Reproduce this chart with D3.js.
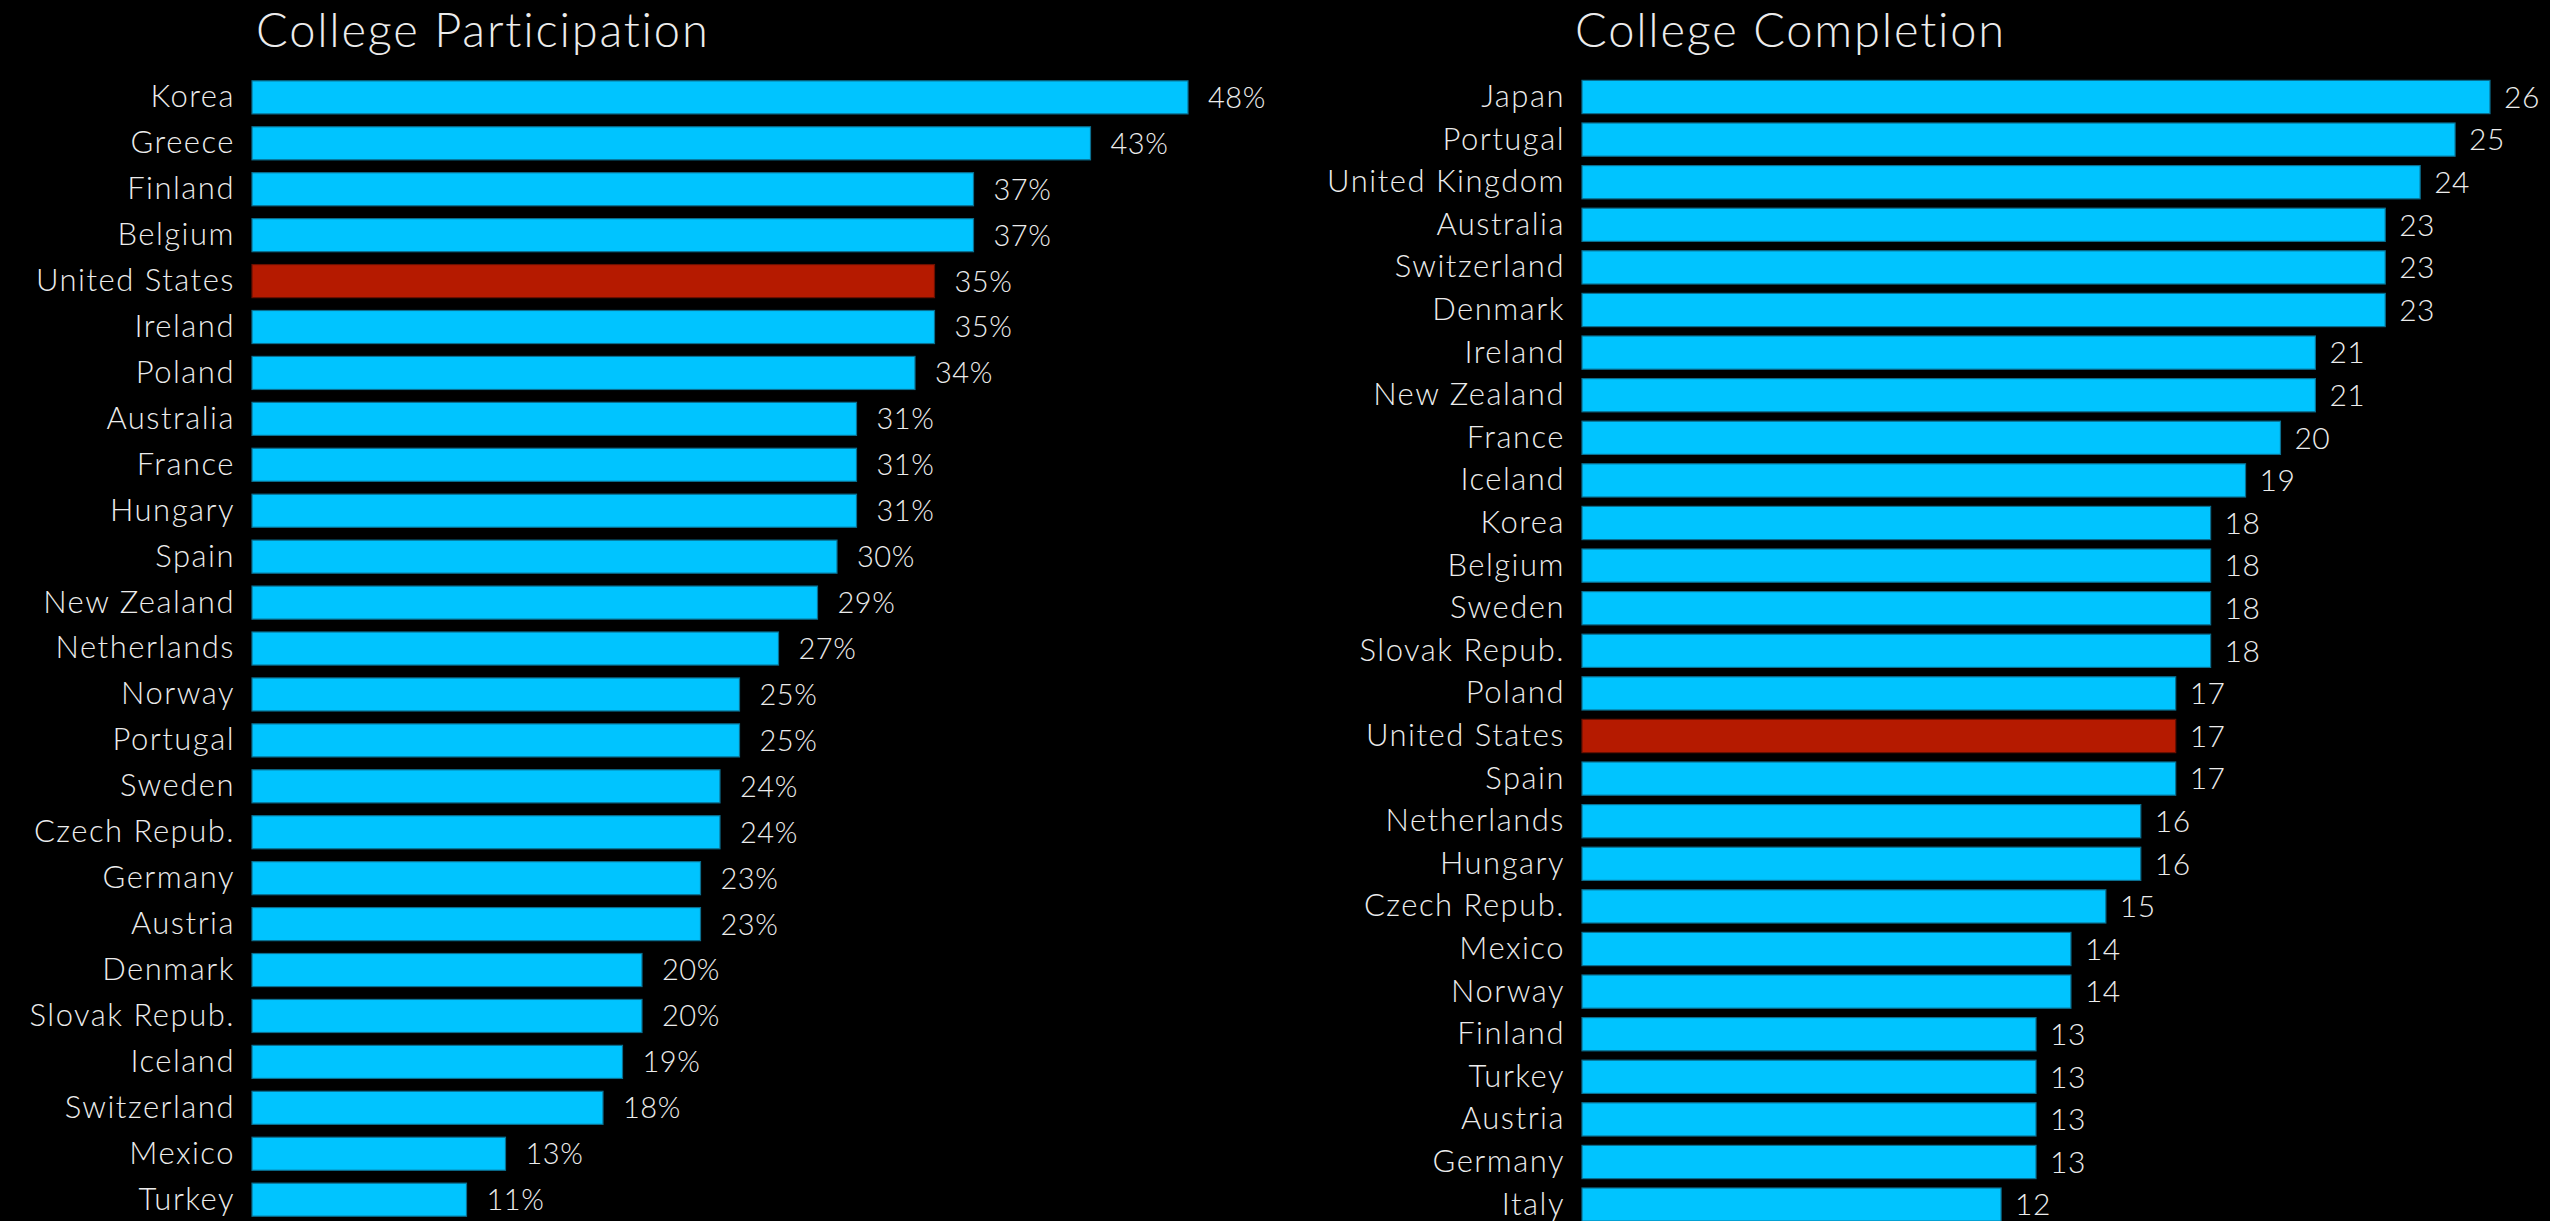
<!DOCTYPE html>
<html>
<head>
<meta charset="utf-8">
<script src="https://cdn.jsdelivr.net/npm/d3@7"></script>
<style>
  html, body { margin: 0; padding: 0; background: #000; }
  svg { display: block; }
  text { font-family: "Lato", "DejaVu Sans", sans-serif; font-weight: 300; fill: #ececec; }
</style>
</head>
<body>
<script>
// College participation (%), sorted descending
const participationCountries = ["Korea", "Greece", "Finland", "Belgium", "United States", "Ireland", "Poland",
  "Australia", "France", "Hungary", "Spain", "New Zealand", "Netherlands", "Norway", "Portugal", "Sweden",
  "Czech Repub.", "Germany", "Austria", "Denmark", "Slovak Repub.", "Iceland", "Switzerland", "Mexico", "Turkey"];
const participationValues = [48, 43, 37, 37, 35, 35, 34, 31, 31, 31, 30, 29, 27, 25, 25, 24, 24, 23, 23, 20, 20, 19, 18, 13, 11];

// College completion, sorted descending
const completionCountries = ["Japan", "Portugal", "United Kingdom", "Australia", "Switzerland", "Denmark", "Ireland",
  "New Zealand", "France", "Iceland", "Korea", "Belgium", "Sweden", "Slovak Repub.", "Poland", "United States",
  "Spain", "Netherlands", "Hungary", "Czech Repub.", "Mexico", "Norway", "Finland", "Turkey", "Austria", "Germany", "Italy"];
const completionValues = [26, 25, 24, 23, 23, 23, 21, 21, 20, 19, 18, 18, 18, 18, 17, 17, 17, 16, 16, 15, 14, 14, 13, 13, 13, 13, 12];

const highlight = "United States";
const W = 2550, H = 1221;

const svg = d3.select("body").append("svg").attr("width", W).attr("height", H);
svg.append("rect").attr("width", W).attr("height", H).attr("fill", "#000");

function panel(opts) {
  const data = opts.countries.map((c, i) => ({ country: c, value: opts.values[i] }));
  const x = d3.scaleLinear().domain([0, opts.max]).range([opts.x0, opts.x1]);
  const y = d3.scaleBand().domain(opts.countries).range(opts.yRange)
    .paddingInner(opts.pad).paddingOuter(opts.pad / 2);

  const g = svg.append("g");

  g.append("text")
    .attr("x", opts.titleX).attr("y", 47)
    .attr("font-size", 47)
    .attr("letter-spacing", 1.8)
    .text(opts.title);

  // category axis: labels only, no domain line or ticks
  const axis = g.append("g")
    .attr("transform", `translate(${opts.x0},0)`)
    .call(d3.axisLeft(y).tickSize(0).tickPadding(17));
  axis.select(".domain").remove();
  axis.selectAll("text")
    .attr("font-size", 31)
    .attr("letter-spacing", 1.5)
    .attr("fill", "#ececec")
    .attr("font-family", "Lato, 'DejaVu Sans', sans-serif")
    .attr("font-weight", 300);

  g.selectAll("rect.bar").data(data).join("rect")
    .attr("class", "bar")
    .attr("x", x(0))
    .attr("y", d => y(d.country))
    .attr("width", d => x(d.value) - x(0))
    .attr("height", y.bandwidth())
    .attr("fill", d => d.country === highlight ? "#b51a00" : "#00c4ff")
    .attr("stroke", d => d.country === highlight ? "#6a1000" : "#0a6f90")
    .attr("stroke-width", 1.2);

  g.selectAll("text.val").data(data).join("text")
    .attr("class", "val")
    .attr("x", d => x(d.value) + opts.valGap)
    .attr("y", d => y(d.country) + y.bandwidth() / 2)
    .attr("dy", "0.36em")
    .attr("font-size", opts.valSize)
    .attr("letter-spacing", 0.5)
    .text(d => d.value + opts.suffix);
}

panel({
  title: "College Participation", titleX: 256,
  countries: participationCountries, values: participationValues,
  max: 48, x0: 252, x1: 1188,
  yRange: [74.4, 74.4 + 25 * 45.93], pad: 0.28,
  valGap: 20, valSize: 29, suffix: "%"
});

panel({
  title: "College Completion", titleX: 1575,
  countries: completionCountries, values: completionValues,
  max: 26, x0: 1582, x1: 2490,
  yRange: [75.7, 75.7 + 27 * 42.6], pad: 0.22,
  valGap: 14, valSize: 30, suffix: ""
});
</script>
</body>
</html>
